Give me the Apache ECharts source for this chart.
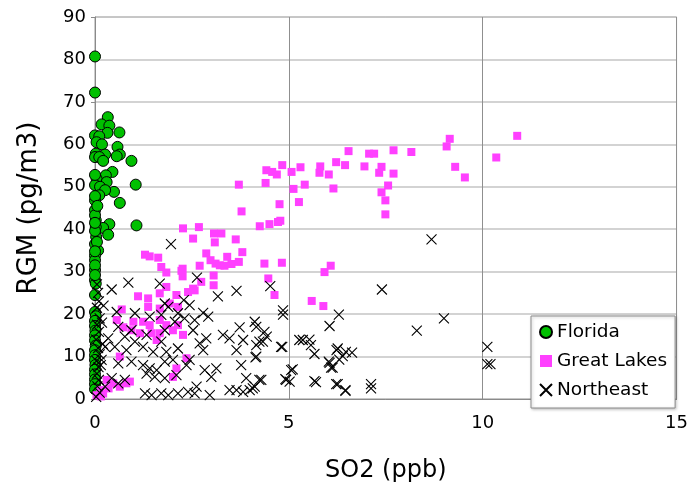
<!DOCTYPE html>
<html><head><meta charset="utf-8">
<script src="https://cdn.jsdelivr.net/npm/echarts@6/dist/echarts.min.js"></script>
<style>html,body{margin:0;padding:0;background:#fff}#c{width:691px;height:493px}</style>
</head><body><div id="c"></div>
<script>
const seriesNames = ['Florida', 'Great Lakes', 'Northeast'];
const xTicks = [0, 5, 10, 15];
const yTicks = [0, 10, 20, 30, 40, 50, 60, 70, 80, 90];

const florida = [
[0.0,80.7],[0.0,72.2],[0.33,66.4],[0.17,64.7],[0.37,64.4],[0.32,62.7],[0.63,62.8],[0.0,62.1],[0.11,61.9],[0.04,60.5],
[0.18,60.0],[0.58,59.4],[0.02,57.8],[0.26,57.6],[0.64,57.6],[0.56,57.2],[0.0,57.0],[0.11,57.0],[0.21,56.1],[0.94,56.1],
[0.45,53.5],[0.28,52.7],[0.04,51.9],[0.3,51.1],[1.05,50.5],[0.0,50.4],[0.13,50.0],[0.49,48.8],[0.26,49.2],[0.11,48.0],
[0.0,46.8],[0.64,46.2],[0.0,44.5],[0.02,42.1],[1.07,40.9],[0.37,41.2],[0.21,40.3],[0.34,38.7],[0.02,40.5],[0.03,38.2],
[0.08,35.0],[0.0,36.5],[0.0,33.8],[0.0,32.7],[0.0,30.4],[0.0,28.0],[0.02,27.2],[0.0,24.5],[0.0,20.5],[0.02,19.5],
[0.0,18.4],[0.0,17.2],[0.01,16.1],[0.0,15.0],[0.0,13.8],[0.02,12.6],[0.0,11.5],[0.0,10.3],[0.0,9.2],[0.01,8.0],
[0.0,6.9],[0.0,5.8],[0.0,4.6],[0.0,3.5],[0.0,2.3],[0.0,47.8],[0.0,43.3],[0.0,39.6],[0.05,37.0],[0.0,31.5],
[0.0,52.8],[0.06,45.5],[0.0,41.5],[0.0,34.8],[0.0,29.2]
];

const greatLakes = [
[10.89,62.0],[9.15,61.3],[9.07,59.5],[10.35,56.9],[9.29,54.7],[9.54,52.2],
[7.7,58.6],[8.16,58.2],[6.54,58.4],[7.07,57.8],[7.2,57.8],[6.22,55.8],[6.45,55.1],[6.95,54.8],[7.39,54.7],[7.33,53.3],
[7.7,53.1],[5.81,54.8],[5.79,53.3],[6.03,52.9],[5.3,54.6],[5.07,53.5],[4.83,55.1],[4.42,53.9],[4.57,53.5],[4.69,52.9],
[4.4,50.9],[3.71,50.5],[5.41,50.5],[5.12,49.5],[6.15,49.6],[7.56,50.3],[7.39,48.7],[7.49,46.8],[7.49,43.5],[5.26,46.4],
[4.76,45.9],[3.78,44.2],[4.78,42.0],[4.72,41.7],[4.5,41.2],[4.25,40.7],[2.27,40.2],[2.68,40.5],[2.53,37.8],[3.07,39.0],
[3.26,39.0],[3.09,36.9],[3.63,37.6],[2.87,34.3],[3.8,34.6],[2.98,32.7],[3.11,31.9],[3.22,31.5],[3.41,33.5],[3.34,31.4],
[3.52,31.8],[3.71,32.3],[2.7,31.4],[4.37,31.9],[4.82,32.1],[6.08,31.4],[5.92,29.9],[2.26,30.7],[2.26,28.9],[3.06,29.1],
[3.06,26.8],[4.47,28.4],[2.53,26.0],[4.63,24.5],[5.59,23.1],[5.89,21.9],
[1.29,34.0],[1.41,33.6],[1.63,33.3],[1.71,31.1],[1.84,29.8],[2.23,30.2],[2.74,27.6],[2.57,25.6],[2.4,25.2],[2.1,24.5],
[1.84,26.4],[1.67,24.9],[1.37,23.7],[1.11,24.2],[1.37,21.7],[1.67,21.3],[1.93,22.5],[2.14,21.7],[0.69,21.1],[0.56,18.6],
[0.99,18.2],[0.73,16.9],[0.94,16.2],[1.24,18.2],[1.41,17.4],[1.67,18.6],[1.84,17.4],[1.16,15.5],[1.46,15.5],[1.67,15.5],
[2.14,17.4],[2.01,16.2],[2.27,15.1],[1.59,13.9],[0.64,10.0],[2.36,9.6],[2.1,7.2],[2.01,5.2],[0.3,4.5],[0.47,3.7],
[0.13,2.1],[0.21,1.3],[0.64,2.9],[0.81,3.7],[0.04,0.9],[0.9,4.1],[0.35,2.5],[0.15,0.6]
];

const northeast = [
[8.68,37.6],[7.4,25.8],[9.0,19.0],[8.3,16.1],[10.12,12.3],[10.12,8.2],[10.2,8.2],
[4.52,26.6],[4.85,20.9],[4.85,19.9],[6.29,19.9],[6.05,17.2],[4.12,18.2],[4.16,17.0],[4.37,15.8],[4.43,14.7],[4.33,13.5],
[4.16,12.7],[4.83,12.3],[5.36,13.9],[5.53,14.0],[5.57,12.7],[5.66,10.6],[4.14,9.8],[6.23,11.5],[6.47,11.1],[6.63,10.9],
[6.3,9.3],[6.03,8.8],[6.13,7.4],[5.1,7.0],[4.91,4.7],[4.29,4.5],[4.07,2.5],[5.66,4.2],[5.7,4.0],[6.22,3.5],[6.46,1.9],
[7.12,3.5],[7.12,2.5],[1.96,36.5],[2.63,28.6],[1.67,27.2],[0.86,27.4],[0.43,25.8],[3.65,25.5],[3.17,24.2],[2.29,23.3],
[1.8,22.5],[2.44,22.1],[2.14,20.2],[1.89,21.7],[0.56,20.5],[1.03,20.2],[1.71,19.8],[1.41,19.4],[2.06,18.2],[0.6,17.0],
[0.94,16.2],[1.8,16.2],[0.77,14.7],[1.33,15.1],[0.34,14.3],[1.03,13.5],[1.71,13.5],[0.51,12.3],[0.81,11.5],[1.24,12.3],
[1.5,11.1],[1.84,11.1],[2.14,11.9],[0.26,12.3],[0.17,9.2],[0.6,8.4],[0.94,8.8],[1.24,8.0],[1.41,7.2],[1.59,6.8],
[1.8,8.8],[2.01,9.2],[2.36,8.0],[1.33,6.0],[1.54,5.2],[1.8,4.9],[2.1,5.6],[0.43,4.9],[0.6,3.7],[0.77,4.5],
[0.26,2.9],[1.29,1.3],[1.46,0.9],[1.71,1.3],[1.89,0.9],[2.14,1.3],[2.4,1.7],[2.31,19.0],
[2.79,20.3],[2.92,19.4],[2.57,18.6],[2.53,16.2],[3.73,16.9],[3.3,15.1],[3.47,14.3],[3.82,13.9],[4.24,13.5],[2.87,14.3],
[2.7,13.1],[2.79,11.5],[3.65,11.5],[4.16,10.0],[4.8,12.3],[5.27,13.9],[2.44,9.2],[3.77,8.0],[2.83,6.8],[3.13,7.2],
[3.0,5.2],[3.9,4.9],[4.24,4.5],[4.93,4.5],[5.06,6.8],[2.62,2.9],[2.57,1.3],[2.96,0.9],[3.47,2.1],[3.65,2.1],
[3.82,1.7],[3.99,2.1],[4.12,2.9],[6.26,11.9],[6.39,10.1],[6.05,8.5],[6.09,7.4],[6.26,3.5],[6.46,2.1],[5.02,4.1],
[0.05,27.0],[0.08,25.0],[0.1,23.0],[0.05,21.5],[0.12,19.0],[0.05,17.5],[0.1,15.8],[0.03,14.0],[0.08,12.0],[0.12,10.5],
[0.04,9.0],[0.09,7.5],[0.05,6.0],[0.1,4.5],[0.06,3.0],[0.12,1.5],[0.03,0.5],[0.15,8.0],[0.2,13.0],[0.18,18.0],[0.22,22.0]
];

const FONT = 'DejaVu Sans';
const crossPath = 'path://M0,0L10,10M10,0L0,10';
const chart = echarts.init(document.getElementById('c'), null, {renderer: 'canvas'});
chart.setOption({
  animation: false,
  backgroundColor: '#fff',
  grid: {left: 95, right: 13, top: 17, bottom: 94, show: true, borderColor: '#9a9a9a', borderWidth: 1},
  xAxis: {
    type: 'value', min: xTicks[0], max: xTicks[xTicks.length - 1], interval: 5,
    name: 'SO2 (ppb)', nameLocation: 'middle', nameGap: 60,
    nameTextStyle: {fontFamily: FONT, fontSize: 24, color: '#000'},
    axisLine: {show: true, lineStyle: {color: '#8a8a8a', width: 1}},
    axisTick: {show: false},
    axisLabel: {fontFamily: FONT, fontSize: 18, color: '#000', margin: 15},
    splitLine: {show: true, lineStyle: {color: '#8f8f8f', width: 1}}
  },
  yAxis: {
    type: 'value', min: yTicks[0], max: yTicks[yTicks.length - 1], interval: 10,
    name: 'RGM (pg/m3)', nameLocation: 'middle', nameGap: 53, nameRotate: 90,
    nameTextStyle: {fontFamily: FONT, fontSize: 26, color: '#000'},
    axisLine: {show: true, lineStyle: {color: '#8a8a8a', width: 1}},
    axisTick: {show: true, inside: false, length: 4, lineStyle: {color: '#8a8a8a'}},
    axisLabel: {fontFamily: FONT, fontSize: 18, color: '#000', margin: 9},
    splitLine: {show: true, lineStyle: {color: '#c4c4c4', width: 1.5}}
  },
  legend: {
    show: true, orient: 'vertical', left: 531, top: 316,
    backgroundColor: '#fff', borderColor: '#8c8c8c', borderWidth: 1,
    shadowColor: 'rgba(0,0,0,0.25)', shadowBlur: 3, shadowOffsetX: 1, shadowOffsetY: 1,
    padding: [6, 8, 8, 8], itemGap: 9, itemWidth: 12, itemHeight: 12,
    textStyle: {fontFamily: FONT, fontSize: 18.5, color: '#000', lineHeight: 20},
    data: seriesNames
  },
  series: [
    {name: seriesNames[0], type: 'scatter', data: florida, symbol: 'circle', symbolSize: 11,
     itemStyle: {color: '#00c000', borderColor: '#000', borderWidth: 1, opacity: 1}},
    {name: seriesNames[1], type: 'scatter', data: greatLakes, symbol: 'rect', symbolSize: 8,
     itemStyle: {color: '#ff40ff', opacity: 1}},
    {name: seriesNames[2], type: 'scatter', data: northeast, symbol: crossPath, symbolSize: 10,
     itemStyle: {color: 'rgba(0,0,0,0)', borderColor: '#000', borderWidth: 1.1, opacity: 1}}
  ]
});
</script>
</body></html>
